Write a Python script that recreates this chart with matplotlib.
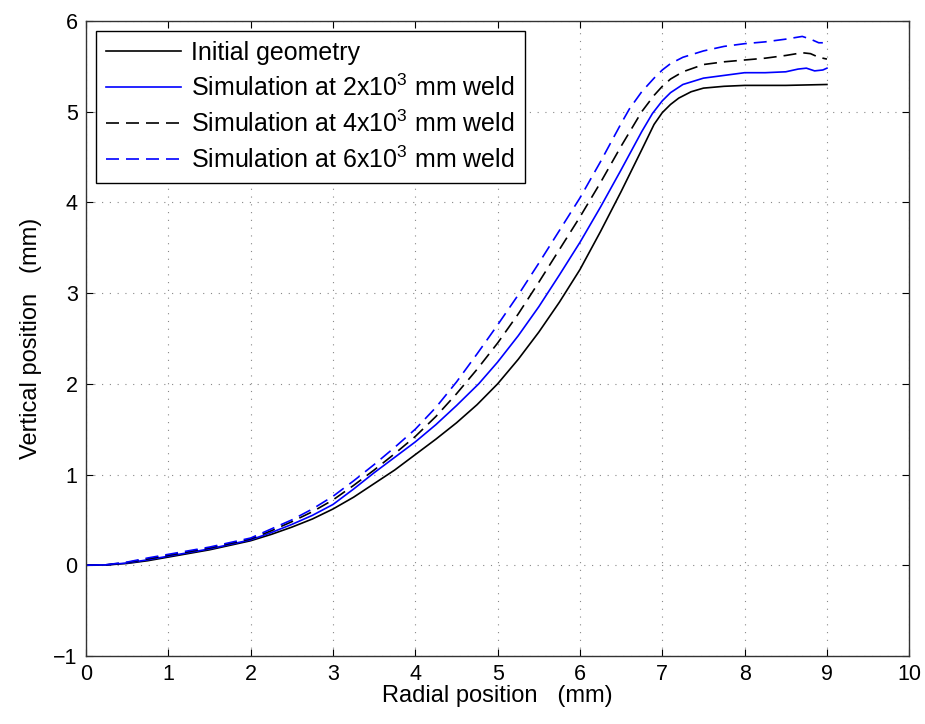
import matplotlib
matplotlib.use('Agg')
import matplotlib.pyplot as plt

plt.rcParams['font.family'] = ['Liberation Sans', 'DejaVu Sans']
plt.rcParams['mathtext.fontset'] = 'custom'
plt.rcParams['mathtext.rm'] = 'Liberation Sans'

# curves (radial position mm, vertical position mm)
x_init = [0, 0.25, 0.5, 0.75, 1, 1.25, 1.5, 1.75, 2, 2.25, 2.5, 2.75, 3, 3.25, 3.5, 3.75,
          4, 4.25, 4.5, 4.75, 5, 5.25, 5.5, 5.75, 6, 6.25, 6.5, 6.75, 6.9, 7.0, 7.1, 7.2,
          7.35, 7.5, 7.75, 8, 8.5, 9]
y_init = [0, 0.003, 0.02, 0.05, 0.09, 0.13, 0.17, 0.22, 0.27, 0.34, 0.42, 0.51, 0.62, 0.75,
          0.9, 1.05, 1.22, 1.39, 1.57, 1.77, 2.0, 2.27, 2.57, 2.9, 3.26, 3.68, 4.12, 4.58,
          4.86, 4.99, 5.08, 5.15, 5.22, 5.26, 5.28, 5.29, 5.29, 5.3]

x_sim2 = [0, 0.25, 0.5, 0.75, 1, 1.25, 1.5, 1.75, 2, 2.25, 2.5, 2.75, 3, 3.25, 3.5, 3.75,
          4, 4.25, 4.5, 4.77, 5, 5.25, 5.5, 5.75, 6, 6.25, 6.5, 6.75, 6.88, 7.0, 7.1, 7.25,
          7.5, 7.75, 8, 8.25, 8.5, 8.65, 8.75, 8.85, 8.95, 9]
y_sim2 = [0, 0.004, 0.025, 0.06, 0.1, 0.14, 0.18, 0.23, 0.28, 0.36, 0.45, 0.55, 0.67, 0.84,
          1.02, 1.19, 1.36, 1.55, 1.76, 2.0, 2.24, 2.53, 2.85, 3.2, 3.56, 3.95, 4.36, 4.78,
          4.98, 5.12, 5.21, 5.3, 5.37, 5.4, 5.43, 5.43, 5.44, 5.47, 5.48, 5.45, 5.46, 5.48]

x_sim4 = [0, 0.25, 0.5, 0.75, 1, 1.25, 1.5, 1.75, 2, 2.25, 2.5, 2.75, 3, 3.25, 3.5, 3.75,
          4, 4.25, 4.5, 4.75, 5, 5.25, 5.5, 5.75, 6, 6.25, 6.5, 6.75, 6.9, 7.0, 7.1, 7.25,
          7.5, 7.75, 8, 8.25, 8.5, 8.7, 8.8, 8.9, 9]
y_sim4 = [0, 0.005, 0.03, 0.07, 0.11, 0.15, 0.19, 0.24, 0.29, 0.38, 0.48, 0.59, 0.72, 0.88,
          1.05, 1.23, 1.42, 1.64, 1.89, 2.16, 2.45, 2.77, 3.12, 3.48, 3.84, 4.22, 4.62, 5.0,
          5.18, 5.28, 5.36, 5.44, 5.52, 5.55, 5.57, 5.59, 5.62, 5.65, 5.64, 5.6, 5.58]

x_sim6 = [0, 0.25, 0.5, 0.75, 1, 1.25, 1.5, 1.75, 2, 2.25, 2.5, 2.75, 3, 3.25, 3.5, 3.75,
          4, 4.25, 4.5, 4.75, 5, 5.25, 5.5, 5.75, 6, 6.25, 6.5, 6.6, 6.75, 6.9, 7.0, 7.1,
          7.25, 7.5, 7.75, 8, 8.25, 8.5, 8.7, 8.8, 8.9, 8.95]
y_sim6 = [0, 0.006, 0.035, 0.08, 0.12, 0.16, 0.2, 0.25, 0.3, 0.4, 0.5, 0.62, 0.76, 0.93,
          1.11, 1.3, 1.5, 1.74, 2.02, 2.33, 2.65, 2.98, 3.33, 3.69, 4.05, 4.45, 4.87, 5.03,
          5.22, 5.37, 5.46, 5.53, 5.6, 5.67, 5.72, 5.75, 5.77, 5.8, 5.83, 5.8, 5.76, 5.76]

labels = ['Initial geometry',
          r'Simulation at 2x10$^3$ mm weld',
          r'Simulation at 4x10$^3$ mm weld',
          r'Simulation at 6x10$^3$ mm weld']

fig = plt.figure(figsize=(9.25, 7.24), dpi=100)
ax = fig.add_axes([0.093, 0.094, 0.890, 0.877])

lw = 1.2
dash = (7.8, 4.2)
ax.plot(x_init, y_init, color='k', lw=lw, label=labels[0])
ax.plot(x_sim2, y_sim2, color='blue', lw=lw, label=labels[1])
ax.plot(x_sim4, y_sim4, color='k', lw=lw, dashes=dash, label=labels[2])
ax.plot(x_sim6, y_sim6, color='blue', lw=lw, dashes=dash, label=labels[3])

ax.set_xlim(0, 10)
ax.set_ylim(-1, 6)
ax.set_xticks(range(0, 11))
ax.set_yticks(range(-1, 7))

# matlab style box + dotted grid
ax.grid(True, color='#888888', linestyle=(0, (1, 6)), lw=0.8)
ax.tick_params(direction='in', top=True, right=True, length=5, labelsize=15.5, pad=6)
for s in ax.spines.values():
    s.set_color('#333333')
    s.set_linewidth(1)

ax.set_xlabel('Radial position   (mm)', fontsize=17, labelpad=0)
ax.set_ylabel('Vertical position   (mm)', fontsize=17, labelpad=8)

leg = ax.legend(loc='upper left', fontsize=18, handlelength=3.0, fancybox=False,
                framealpha=1, edgecolor='k', borderaxespad=0.4,
                labelspacing=0.38, handletextpad=0.4, borderpad=0.4)
leg.get_frame().set_linewidth(1)

fig.savefig('out.png', dpi=100)
